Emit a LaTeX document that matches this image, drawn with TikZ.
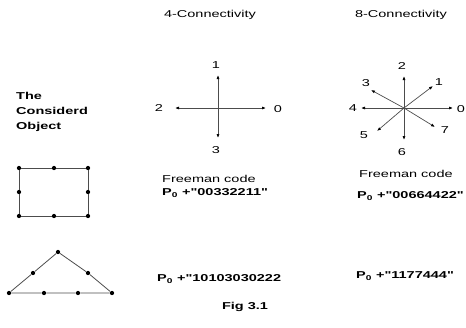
\documentclass[tikz,border=0pt]{standalone}
\usepackage{fontspec}
\newfontfamily\widesans[FakeStretch=1.45]{Liberation Sans}
\usetikzlibrary{arrows.meta}

\begin{document}
\begin{tikzpicture}[x=1pt, y=-1pt,
  every node/.style={font=\widesans\fontsize{10}{15}\selectfont, inner sep=0pt},
  code/.style={anchor=west, font=\widesans\bfseries\fontsize{10}{15}\selectfont},
  dot/.style={circle, fill, inner sep=1.5pt},
  dir/.style={draw=gray!60!black, line width=0.7pt, -{Latex[length=4pt,width=3pt,black]}},
  edge/.style={draw=gray!60!black, line width=0.8pt}]
  \useasboundingbox (0,0) rectangle (466,327);

  \node (head4) at (210,15) {4-Connectivity};
  \node (head8) at (401,15) {8-Connectivity};
  \node[align=left, anchor=west, font=\widesans\bfseries\fontsize{10}{15}\selectfont] (obj) at (16,112) {The\\Considerd\\Object};

  % 4-connectivity
  \coordinate (c4) at (218,108);
  \coordinate (e0) at (266,108);
  \coordinate (e1) at (218,75);
  \coordinate (e2) at (175,108);
  \coordinate (e3) at (218,138);
  \foreach \i in {0,...,3} \draw[dir] (c4) -- (e\i);
  \node (l0) at (278,109) {0};
  \node (l1) at (216,65) {1};
  \node (l2) at (159,108) {2};
  \node (l3) at (216,150) {3};

  % 8-connectivity
  \coordinate (c8) at (404,108);
  \coordinate (f0) at (453,108);
  \coordinate (f1) at (433,86);
  \coordinate (f2) at (404,76);
  \coordinate (f3) at (371,90);
  \coordinate (f4) at (361,108);
  \coordinate (f5) at (377,131);
  \coordinate (f6) at (404,140);
  \coordinate (f7) at (435,127);
  \foreach \i in {0,...,7} \draw[dir] (c8) -- (f\i);
  \node (m0) at (461,109) {0};
  \node (m1) at (439,82) {1};
  \node (m2) at (402,66) {2};
  \node (m3) at (366,83) {3};
  \node (m4) at (353,108) {4};
  \node (m5) at (364,135) {5};
  \node (m6) at (402,152) {6};
  \node (m7) at (445,130) {7};

  % rectangle
  \node[dot] (r1) at (19,168) {};
  \node[dot] (r2) at (54,168) {};
  \node[dot] (r3) at (88,168) {};
  \node[dot] (r4) at (88,192) {};
  \node[dot] (r5) at (88,216) {};
  \node[dot] (r6) at (54,216) {};
  \node[dot] (r7) at (19,216) {};
  \node[dot] (r8) at (19,192) {};
  \draw[edge] (r1) -- (r2) -- (r3) -- (r4) -- (r5) -- (r6) -- (r7) -- (r8) -- (r1);

  % triangle
  \node[dot] (t1) at (58,252) {};
  \node[dot] (t2) at (88,273) {};
  \node[dot] (t3) at (112,293) {};
  \node[dot] (t4) at (78,293) {};
  \node[dot] (t5) at (44,293) {};
  \node[dot] (t6) at (9,293) {};
  \node[dot] (t7) at (33,273) {};
  \draw[edge] (t1) -- (t2) -- (t3) -- (t4) -- (t5) -- (t6) -- (t7) -- (t1);

  \node[anchor=west] (fc4) at (162,179) {Freeman code};
  \node[code] (rc4) at (162,193) {P\textsubscript{0} +"00332211"};
  \node[code] (tc4) at (157,279) {P\textsubscript{0} +"10103030222};
  \node[anchor=west] (fc8) at (359,174) {Freeman code};
  \node[code] (rc8) at (357,196) {P\textsubscript{0} +"00664422"};
  \node[code] (tc8) at (356,276) {P\textsubscript{0} +"1177444"};
  \node[font=\widesans\bfseries\fontsize{10}{15}\selectfont] (fig) at (245,307) {Fig 3.1};
\end{tikzpicture}
\end{document}
